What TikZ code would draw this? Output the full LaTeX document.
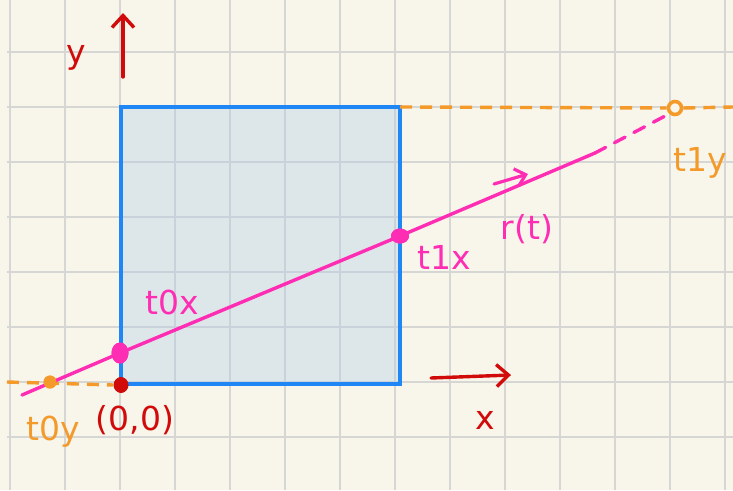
\documentclass[tikz,border=0pt]{standalone}
\usepackage{fontspec}
\setmainfont{DejaVu Sans}
\usetikzlibrary{arrows.meta,shapes.geometric}
\definecolor{paper}{HTML}{F8F6EA}
\definecolor{gridc}{HTML}{D6D6D4}
\definecolor{gridin}{HTML}{C9D2DA}
\definecolor{boxblue}{HTML}{1E86F5}
\definecolor{boxfill}{HTML}{DDE6E9}
\definecolor{hotpink}{HTML}{FF2DB4}
\definecolor{pen}{HTML}{D10A0A}
\definecolor{orng}{HTML}{F49A2A}
\tikzset{
  hand/.style={font=\fontsize{33}{36}\selectfont, inner sep=0pt},
  pinklbl/.style={hand, text=hotpink},
  redlbl/.style={hand, text=pen},
  orglbl/.style={hand, text=orng},
  gridline/.style={draw=gridc, line width=1.8pt},
  orgdash/.style={draw=orng, line width=3.4pt, dash pattern=on 12pt off 8pt},
  ray/.style={draw=hotpink, line width=3.4pt, line cap=round},
  penarrow/.style={draw=pen, line width=3.4pt, line cap=round, -{Straight Barb[length=12pt,width=22pt,line width=3.4pt]}},
  pinkarrow/.style={draw=hotpink, line width=3.2pt, line cap=round, -{Straight Barb[length=10pt,width=18pt,line width=3.2pt]}},
  dotpt/.style={circle, inner sep=0pt, minimum size=13pt}
}
\begin{document}
\begin{tikzpicture}[x=1pt,y=-1pt]
\useasboundingbox (0,0) rectangle (733,490);
\fill[paper] (0,0) rectangle (733,490);
% grid
\foreach \gx in {10,65,...,725} \draw[gridline] (\gx,0) -- (\gx,490);
\foreach \gy in {-3,52,...,490} \draw[gridline] (7,\gy) -- (733,\gy);
% box
\fill[boxfill] (121,107) rectangle (400,384);
\begin{scope}
\clip (121,107) rectangle (400,384);
\foreach \gx in {175,230,285,340,395} \draw[draw=gridin, line width=1.6pt] (\gx,107) -- (\gx,384);
\foreach \gy in {162,217,272,327,382} \draw[draw=gridin, line width=1.6pt] (121,\gy) -- (400,\gy);
\end{scope}
\draw[boxblue, line width=3.6pt] (121,107) rectangle (400,384);
% points
\coordinate (start) at (22,395);
\node[dotpt, fill=orng] (t0y) at (50,382) {};
\node[fill=hotpink, minimum width=17pt, minimum height=21pt, inner sep=0pt, ellipse] (t0x) at (120,353) {};
\node[dotpt, fill=pen, minimum size=15pt] (origin) at (121,385) {};
\node[ellipse, fill=hotpink, minimum width=18pt, minimum height=15pt, inner sep=0pt] (t1x) at (400,236) {};
\coordinate (solidend) at (595,153);
\node[circle, draw=orng, line width=3.6pt, fill=paper, minimum size=13pt, inner sep=0pt] (t1y) at (675,108) {};
\coordinate (leftdash) at (7,382);
\coordinate (rightdash) at (733,107);
% orange dashed lines
\draw[orgdash] (leftdash) -- (origin.west);
\draw[orgdash] (400,107) -- (t1y.west);
\draw[orgdash] (t1y.east) -- (rightdash);
% ray
\draw[ray] (start) -- (t0x.center) -- (t1x.center) -- (solidend);
\draw[ray, dash pattern=on 12pt off 10pt] (solidend) -- (t1y.south west);
% redraw dots on top
\node[dotpt, fill=orng] at (t0y) {};
\node[fill=hotpink, minimum width=17pt, minimum height=21pt, inner sep=0pt, ellipse] at (t0x) {};
\node[ellipse, fill=hotpink, minimum width=18pt, minimum height=15pt, inner sep=0pt] at (t1x) {};
\node[ellipse, fill=pen, minimum width=14pt, minimum height=16pt, inner sep=0pt] at (origin) {};
% axes arrows
\coordinate (yb) at (123,77);
\coordinate (yt) at (123,13);
\draw[penarrow] (yb) -- (yt);
\coordinate (xb) at (431,378);
\coordinate (xt) at (511,375);
\draw[penarrow] (xb) -- (xt);
% labels
\node[redlbl] (ylbl) at (76,58) {y};
\node[redlbl] (xlbl) at (485,420) {x};
\node[redlbl] (olbl) at (135,420) {(0,0)};
\node[pinklbl] (l0x) at (172,302) {t0x};
\node[pinklbl] (l1x) at (444,257) {t1x};
\node[pinklbl] (rlbl) at (527,229) {r(t)};
\coordinate (rb) at (494,184);
\coordinate (rt) at (528,174);
\draw[pinkarrow] (rb) -- (rt);
\node[orglbl] (l0y) at (53,432) {t0y};
\node[orglbl] (l1y) at (700,163) {t1y};
\end{tikzpicture}
\end{document}
